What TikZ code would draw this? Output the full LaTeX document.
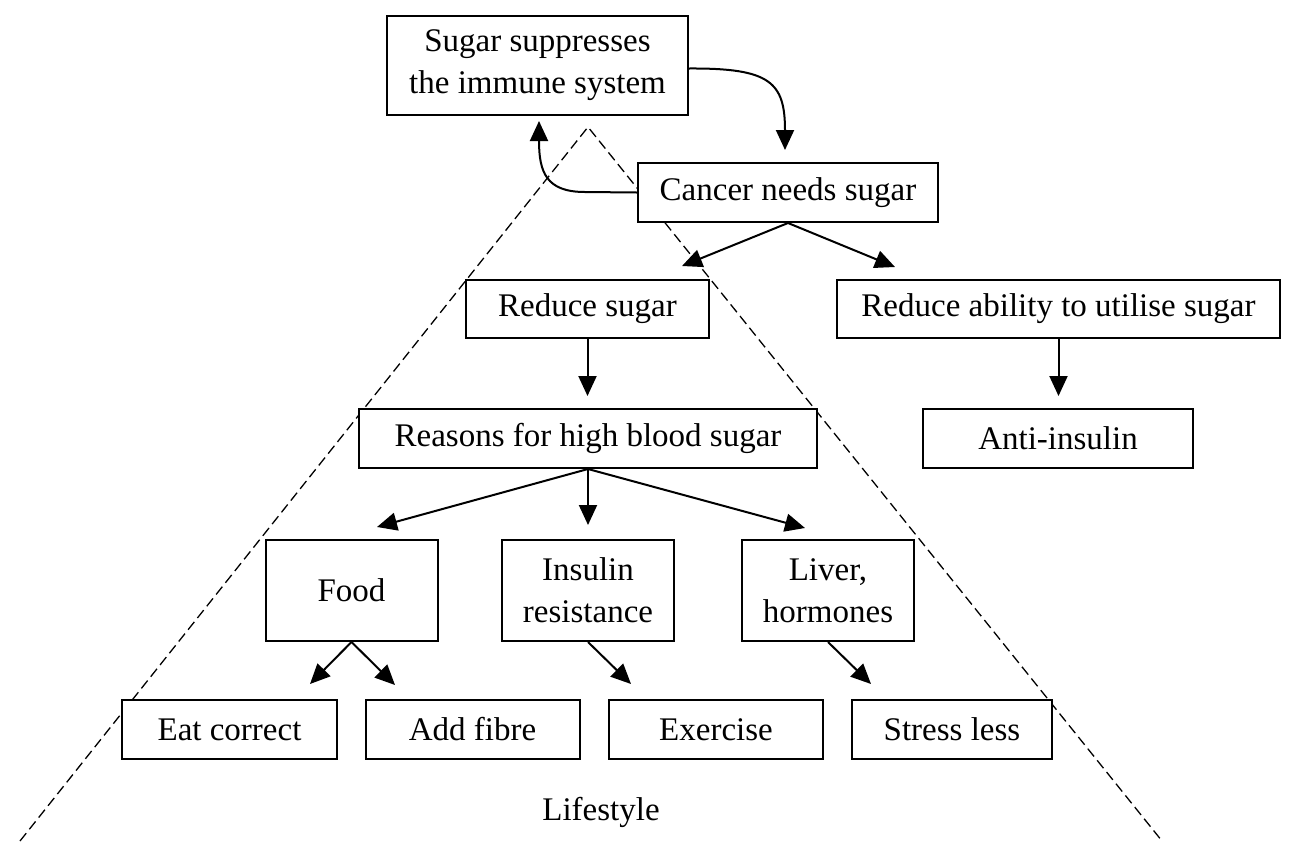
\documentclass[tikz,border=0pt]{standalone}
\usepackage{fontspec}
\setmainfont{Liberation Serif}
\usetikzlibrary{arrows.meta}
\begin{document}
\begin{tikzpicture}[x=1pt,y=-1pt,
  box/.style={draw, line width=2pt, inner sep=0pt, align=center, font=\fontsize{33}{42}\selectfont},
  arr/.style={-{Triangle[length=20pt,width=18pt]}, line width=2pt},
  tri/.style={line width=1.3pt, dash pattern=on 10pt off 5pt}]
\useasboundingbox (0,0) rectangle (1297,841);
\draw[tri] (20,841) -- (588,127) -- (1162,841);
\node[box, minimum width=301pt, minimum height=99pt] (sugar) at (537.5,65.5) {Sugar suppresses\\the immune system};
\node[box, minimum width=300pt, minimum height=59pt, fill=white] (cancer) at (788,192.5) {Cancer needs sugar};
\node[box, minimum width=243pt, minimum height=58pt, fill=white] (rsugar) at (587.5,309) {Reduce sugar};
\node[box, minimum width=443pt, minimum height=58pt] (rab) at (1058.5,309) {Reduce ability to utilise sugar};
\node[box, minimum width=458pt, minimum height=59pt, fill=white] (reasons) at (588,438.5) {Reasons for high blood sugar};
\node[box, minimum width=270pt, minimum height=59pt] (anti) at (1058,438.5) {Anti-insulin};
\node[box, minimum width=172pt, minimum height=101pt] (food) at (351.5,590.5) {Food};
\node[box, minimum width=172pt, minimum height=101pt] (insulin) at (588,590.5) {Insulin\\resistance};
\node[box, minimum width=172pt, minimum height=101pt] (liver) at (828,590.5) {Liver,\\hormones};
\node[box, minimum width=215pt, minimum height=59pt, fill=white] (eat) at (229.5,729.5) {Eat correct};
\node[box, minimum width=214pt, minimum height=59pt] (fibre) at (472.5,729.5) {Add fibre};
\node[box, minimum width=214pt, minimum height=59pt] (exer) at (716,729.5) {Exercise};
\node[box, minimum width=200pt, minimum height=59pt, fill=white] (stress) at (952,729.5) {Stress less};
\node[font=\fontsize{33}{42}\selectfont] (life) at (601,812) {Lifestyle};
% free ends
\coordinate (t1) at (785,150);
\coordinate (t2) at (539,121);
\coordinate (t3) at (682,266);
\coordinate (t4) at (895,267);
\coordinate (t5) at (377,527);
\coordinate (t6) at (805,528);
\coordinate (t7) at (310,684);
\coordinate (t8) at (395,685);
\coordinate (t9) at (631,684);
\coordinate (t10) at (871,684);
% arrows
\draw[arr] ([yshift=-3pt]sugar.east) .. controls (770,68) and (785,82) .. (t1);
\draw[arr] (cancer.west) -- (585,192) .. controls (546,192) and (539,172) .. (t2);
\draw[arr] (cancer.south) -- (t3);
\draw[arr] (cancer.south) -- (t4);
\draw[arr] (rsugar.south) -- (rsugar.south |- 0,396);
\draw[arr] (rab.south) -- (rab.south |- 0,396);
\draw[arr] (reasons.south) -- (t5);
\draw[arr] (reasons.south) -- (reasons.south |- 0,525);
\draw[arr] (reasons.south) -- (t6);
\draw[arr] (food.south) -- (t7);
\draw[arr] (food.south) -- (t8);
\draw[arr] (insulin.south) -- (t9);
\draw[arr] (liver.south) -- (t10);
\end{tikzpicture}
\end{document}
